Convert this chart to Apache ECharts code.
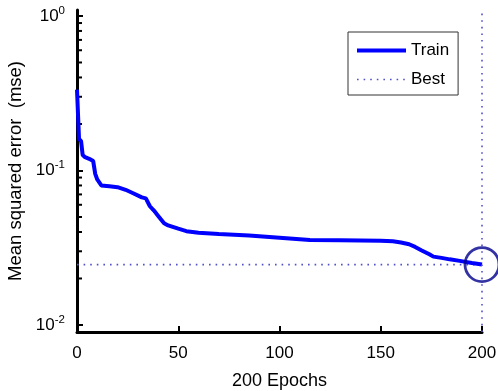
<!DOCTYPE html>
<html>
<head>
<meta charset="utf-8">
<script src="https://cdn.jsdelivr.net/npm/echarts@6/dist/echarts.min.js"></script>
<style>
html,body{margin:0;padding:0;background:#fff;}
#chart{width:498px;height:391px;}
</style>
</head>
<body>
<div id="chart"></div>
<script>
// epochs and training mse
var epochs = [0, 1, 2, 2.8, 4, 6, 8, 9, 10, 12, 16, 20, 24, 28, 32, 34, 36, 38, 40, 43, 45, 50, 54, 60, 70, 85, 100, 115, 130, 150, 156, 160, 164, 167, 170, 174, 176, 180, 184, 189, 195, 200];
var trainMse = [0.334, 0.16, 0.155, 0.126, 0.122, 0.119, 0.115, 0.095, 0.0875, 0.080, 0.079, 0.078, 0.075, 0.071, 0.067, 0.066, 0.0587, 0.055, 0.051, 0.0455, 0.0441, 0.042, 0.0405, 0.0396, 0.0388, 0.0379, 0.0367, 0.0355, 0.0354, 0.0351, 0.0348, 0.0342, 0.0333, 0.032, 0.0305, 0.0287, 0.0277, 0.0272, 0.0266, 0.026, 0.0252, 0.0246];
var bestEpoch = 200;
var bestMse = 0.0246;
var xTicks = [0, 50, 100, 150, 200];
var yTicks = [0.01, 0.1, 1];
var yMinorTicks = [0.02, 0.03, 0.04, 0.05, 0.06, 0.07, 0.08, 0.09, 0.2, 0.3, 0.4, 0.5, 0.6, 0.7, 0.8, 0.9];

var dom = document.getElementById("chart");
var myChart = echarts.init(dom);

var font = "Liberation Sans";
var dotStyle = { color: '#5050cc', width: 1.6, type: [1.6, 5] };

var option = {
    animation: false,
    textStyle: { fontFamily: font },
    grid: { left: 77, right: 16, top: 10, bottom: 59, outerBoundsMode: 'none' },
    legend: {
        data: [
            { name: 'Train', lineStyle: { width: 4, color: '#0000ff' } },
            { name: 'Best', lineStyle: dotStyle }
        ],
        orient: 'vertical',
        left: 348,
        top: 32,
        padding: [10, 9, 7, 7],
        itemGap: 12,
        itemWidth: 49,
        itemHeight: 15,
        borderColor: '#333',
        borderWidth: 1,
        itemStyle: { opacity: 0 },
        textStyle: { fontSize: 17, color: '#000', fontFamily: font }
    },
    xAxis: {
        type: 'value',
        min: xTicks[0],
        max: xTicks[xTicks.length - 1],
        interval: 50,
        name: '200 Epochs',
        nameLocation: 'middle',
        nameGap: 40,
        nameTextStyle: { fontSize: 18, color: '#000' },
        splitLine: { show: false },
        axisLine: { lineStyle: { color: '#000', width: 3 } },
        axisTick: { inside: true, length: 6, lineStyle: { color: '#000', width: 2 } },
        axisLabel: { fontSize: 17, color: '#000', margin: 13 }
    },
    yAxis: {
        type: 'log',
        logBase: 10,
        min: 0.00901,
        max: 1.093,
        name: 'Mean squared error  (mse)',
        nameLocation: 'middle',
        nameGap: 50,
        nameTextStyle: { fontSize: 18.5, color: '#000' },
        splitLine: { show: false },
        axisLine: { lineStyle: { color: '#000', width: 3 } },
        axisTick: { inside: true, length: 6, customValues: yTicks, lineStyle: { color: '#000', width: 2 } },
        axisLabel: {
            margin: 12,
            customValues: yTicks,
            formatter: function (v) {
                var e = Math.round(Math.log10(v));
                if (Math.abs(Math.log10(v) - e) > 1e-6) return '';
                return '{b|10}{s|' + e + '}';
            },
            rich: {
                b: { fontSize: 17, color: '#000', fontFamily: font },
                s: { fontSize: 11.5, color: '#000', fontFamily: font, padding: [0, 0, 11, 0] }
            }
        }
    },
    series: [
        {
            name: 'minorTicks',
            type: 'custom',
            silent: true,
            z: 1,
            data: yMinorTicks.map(function (v) { return [0, v]; }),
            renderItem: function (params, api) {
                var p = api.coord([api.value(0), api.value(1)]);
                return {
                    type: 'line',
                    shape: { x1: p[0], y1: p[1], x2: p[0] + 5, y2: p[1] },
                    style: { stroke: '#000', lineWidth: 2 }
                };
            }
        },
        {
            name: 'Train',
            type: 'line',
            symbol: 'none',
            color: '#0000ff',
            lineStyle: { color: '#0000ff', width: 4 },
            data: epochs.map(function (x, i) { return [x, trainMse[i]]; }),
            z: 3
        },
        {
            name: 'Best',
            type: 'line',
            symbol: 'none',
            color: '#5050cc',
            lineStyle: dotStyle,
            data: [[0, bestMse], [bestEpoch, bestMse]],
            markLine: {
                silent: true,
                symbol: 'none',
                label: { show: false },
                lineStyle: dotStyle,
                data: [{ xAxis: bestEpoch }]
            },
            z: 2
        },
        {
            name: 'BestPoint',
            type: 'scatter',
            symbol: 'circle',
            symbolSize: 34,
            clip: false,
            itemStyle: { color: 'rgba(0,0,0,0)', borderColor: '#00008c', borderWidth: 2.8 },
            data: [[bestEpoch, bestMse]],
            z: 4
        }
    ]
};
myChart.setOption(option);
</script>
</body>
</html>
